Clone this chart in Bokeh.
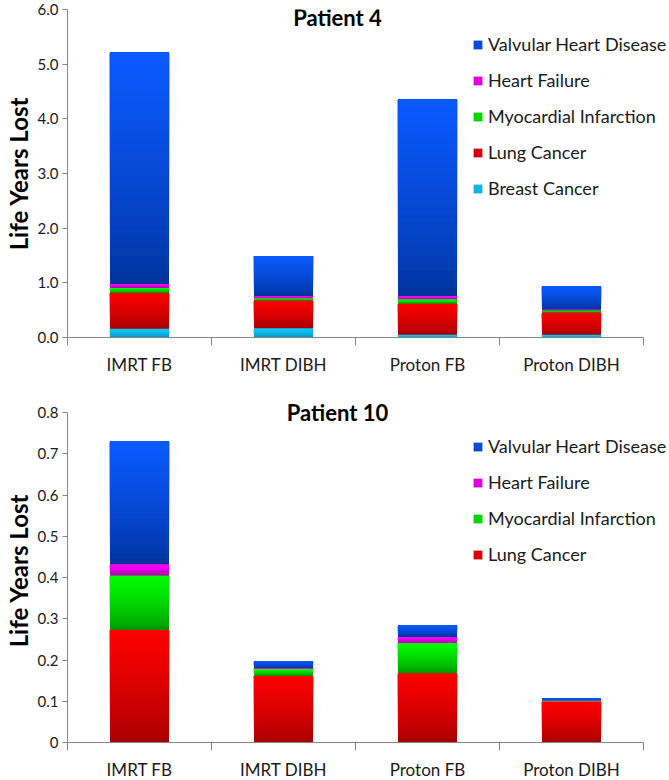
from bokeh.plotting import figure
from bokeh.models import (Range1d, FixedTicker, ColumnDataSource, Legend,
                          LegendItem, Label)
from bokeh.layouts import column
from bokeh.embed import file_html
from bokeh.resources import INLINE

# ---------------- data ----------------
categories = ["IMRT FB", "IMRT DIBH", "Proton FB", "Proton DIBH"]

p4_breast = [0.16, 0.17, 0.05, 0.05]
p4_lung = [0.66, 0.51, 0.57, 0.41]
p4_mi = [0.09, 0.04, 0.08, 0.04]
p4_hf = [0.07, 0.04, 0.06, 0.01]
p4_vhd = [4.23, 0.73, 3.60, 0.42]

p10_lung = [0.273, 0.162, 0.168, 0.099]
p10_mi = [0.132, 0.016, 0.073, 0.003]
p10_hf = [0.027, 0.003, 0.015, 0.001]
p10_vhd = [0.297, 0.016, 0.027, 0.003]

p4_ticks = [0, 1, 2, 3, 4, 5, 6]
p4_tick_labels = ["0.0", "1.0", "2.0", "3.0", "4.0", "5.0", "6.0"]
p10_ticks = [0, 0.1, 0.2, 0.3, 0.4, 0.5, 0.6, 0.7, 0.8]
p10_tick_labels = ["0", "0.1", "0.2", "0.3", "0.4", "0.5", "0.6", "0.7", "0.8"]

# ---------------- styles ----------------
FONT = "Lato"
AXIS_COL = "#868686"
NSLICE = 24
BAR_W = 0.41
AXIS_PX = 576          # pixel length of the category axis
FRAME_W = 600          # frame is wider so the legend can overhang the axis
X_END = len(categories) * FRAME_W / AXIS_PX
# (bright top, dark bottom)
COLORS = {
    "Breast Cancer": ((20, 205, 250), (0, 140, 190)),
    "Lung Cancer": ((255, 0, 0), (160, 0, 0)),
    "Myocardial Infarction": ((0, 255, 0), (0, 145, 0)),
    "Heart Failure": ((255, 0, 255), (170, 0, 170)),
    "Valvular Heart Disease": ((10, 90, 255), (0, 48, 150)),
}


def mix(c_top, c_bot, f):
    g = f ** 0.7
    r = [int(round(b + (t - b) * g)) for t, b in zip(c_top, c_bot)]
    return "#%02x%02x%02x" % tuple(r)


def make_panel(title, series, ticks, tick_labels, y_max, axis_h, head_px,
               border_top, legend_top, title_off):
    frame_h = axis_h + head_px
    p = figure(frame_width=FRAME_W, frame_height=frame_h,
               output_backend="svg",
               toolbar_location=None, x_range=Range1d(0, X_END),
               y_range=Range1d(0, y_max * frame_h / axis_h),
               min_border_left=65, min_border_right=0,
               min_border_top=border_top, min_border_bottom=38)
    p.outline_line_color = None
    p.xgrid.visible = False
    p.ygrid.visible = False
    p.background_fill_color = "white"

    bottoms = [0.0] * len(categories)
    items = []
    for name, vals in series:
        top_c, bot_c = COLORS[name]
        xs, bs, ts, cs = [], [], [], []
        for i, v in enumerate(vals):
            b = bottoms[i]
            t = b + v
            for k in range(NSLICE):
                xs.append(i + 0.5)
                bs.append(b + (t - b) * k / NSLICE)
                ts.append(t)
                cs.append(mix(top_c, bot_c, (k + 0.5) / NSLICE))
            bottoms[i] = t
        src = ColumnDataSource(dict(x=xs, bottom=bs, top=ts, color=cs))
        r = p.vbar(x="x", bottom="bottom", top="top", width=BAR_W,
                   fill_color="color", line_color=None, source=src)
        items.append(LegendItem(label=name, renderers=[r],
                                index=NSLICE // 2))

    items = items[::-1]
    n = len(items)
    lab_h, spacing = 22, 14
    leg_h = n * lab_h + (n - 1) * spacing
    legend = Legend(items=items,
                    location=(405, frame_h - legend_top - leg_h),
                    label_text_font=FONT, label_text_font_size="18px",
                    label_text_color="#1a1a1a",
                    glyph_width=11, glyph_height=11, label_height=lab_h,
                    label_standoff=5, spacing=spacing, padding=0, margin=0,
                    background_fill_alpha=0, border_line_color=None)
    p.add_layout(legend, "center")

    # axes
    xa = p.xaxis[0]
    xa.bounds = (0, len(categories))
    xa.ticker = FixedTicker(ticks=[i + 0.5 for i in range(len(categories))],
                            minor_ticks=list(range(len(categories) + 1)))
    xa.major_label_overrides = {i + 0.5: c for i, c in enumerate(categories)}
    xa.major_tick_out = 0
    xa.major_tick_in = 0
    xa.minor_tick_out = 8
    xa.minor_tick_in = 0
    xa.minor_tick_line_color = AXIS_COL
    xa.axis_line_color = AXIS_COL
    xa.major_label_text_font = FONT
    xa.major_label_text_font_size = "17px"
    xa.major_label_text_color = "#1a1a1a"
    xa.major_label_standoff = 8

    ya = p.yaxis[0]
    ya.bounds = (0, y_max)
    ya.ticker = FixedTicker(ticks=ticks)
    ya.major_label_overrides = {t: l for t, l in zip(ticks, tick_labels)}
    ya.major_tick_out = 5
    ya.major_tick_in = 0
    ya.minor_tick_out = 0
    ya.minor_tick_in = 0
    ya.axis_line_color = AXIS_COL
    ya.major_tick_line_color = AXIS_COL
    ya.major_label_text_font = FONT
    ya.major_label_text_font_size = "15px"
    ya.major_label_text_color = "#1a1a1a"
    ya.major_label_standoff = 4
    ya.axis_label = "Life Years Lost"
    ya.axis_label_text_font = FONT
    ya.axis_label_text_font_style = "bold"
    ya.axis_label_text_font_size = "24px"
    ya.axis_label_text_color = "black"
    ya.axis_label_standoff = 2

    p.add_layout(Label(x=270, y=frame_h - title_off, x_units="screen",
                       y_units="screen", text=title, text_align="center",
                       text_baseline="middle", text_font=FONT,
                       text_font_style="bold", text_font_size="22px",
                       text_color="black"))
    return p


p_top = make_panel("Patient 4",
                   [("Breast Cancer", p4_breast), ("Lung Cancer", p4_lung),
                    ("Myocardial Infarction", p4_mi),
                    ("Heart Failure", p4_hf),
                    ("Valvular Heart Disease", p4_vhd)],
                   p4_ticks, p4_tick_labels, 6, 328, 0, 9, 24, 8)

p_bot = make_panel("Patient 10",
                   [("Lung Cancer", p10_lung),
                    ("Myocardial Infarction", p10_mi),
                    ("Heart Failure", p10_hf),
                    ("Valvular Heart Disease", p10_vhd)],
                   p10_ticks, p10_tick_labels, 0.8, 330, 14, 21, 37, 14)

layout = column(p_top, p_bot, spacing=0)
open("out.html", "w").write(file_html(layout, INLINE))
